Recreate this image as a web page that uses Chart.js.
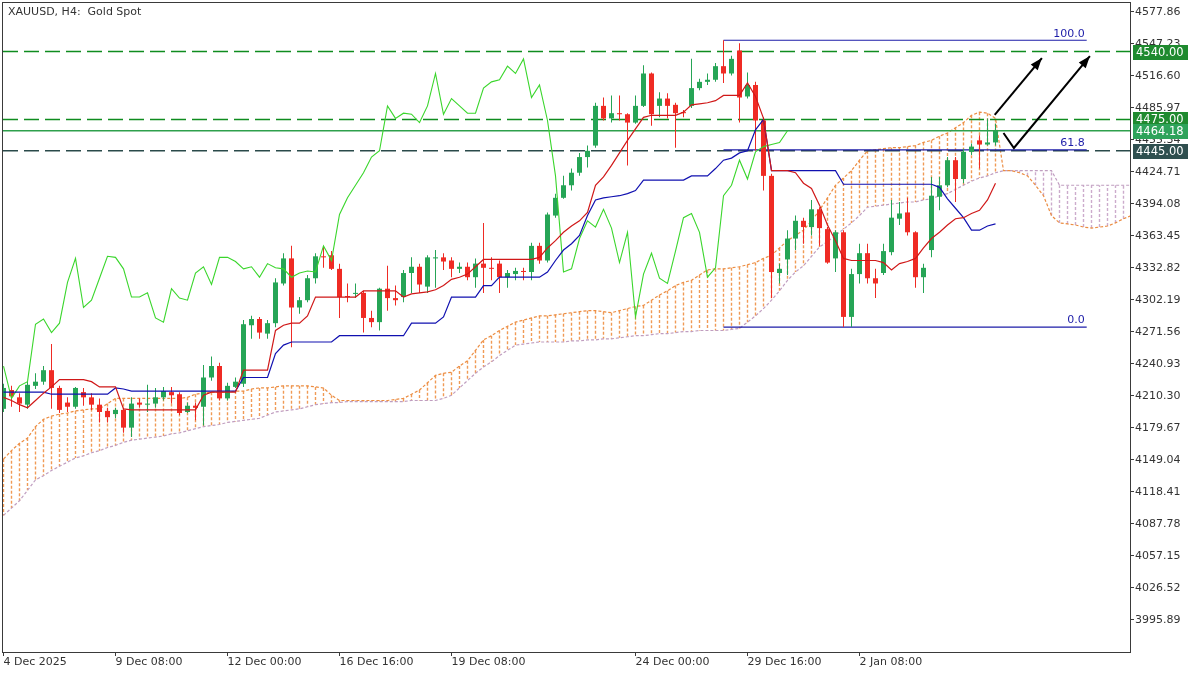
<!DOCTYPE html>
<html><head><meta charset="utf-8">
<script src="https://cdn.jsdelivr.net/npm/chart.js@4.4.1/dist/chart.umd.min.js"></script>
<style>html,body{margin:0;padding:0;background:#fff;}#wrap{width:1200px;height:675px;}</style>
</head><body><div id="wrap"><canvas id="c" width="1200" height="675"></canvas></div>
<script>
// ---------- DATA ----------
const opens = [4198,4216,4209,4202,4220,4224,4235,4218,4204,4200,
4214,4209,4202,4196,4193,4197,4180,4204,4202,4203,
4209,4214,4212,4195,4201,4200,4228,4239,4208,4219,
4222,4278,4284,4270,4280,4318,4342,4295,4302,4323,
4344,4345,4332,4306,4308,4309,4285,4281,4313,4304,
4305,4328,4334,4315,4342,4343,4340,4332,4334,4324,
4337,4333,4337,4324,4327,4330,4329,4354,4340,4383,
4400,4412,4424,4439,4450,4488,4476,4481,4480,4472,
4488,4519,4488,4495,4489,4482,4488,4505,4511,4513,
4526,4519,4541,4497,4508,4474,4421,4328,4341,4361,
4378,4372,4389,4370,4342,4367,4286,4327,4347,4323,
4328,4348,4380,4386,4367,4324,4350,4401,4412,4436,
4418,4444,4455,4451,4453];
const highs = [4222,4220,4213,4224,4232,4239,4260,4220,4209,4219,
4218,4213,4208,4199,4199,4199,4209,4208,4221,4218,
4219,4219,4214,4204,4204,4240,4248,4242,4223,4228,
4283,4287,4286,4283,4323,4347,4354,4305,4326,4347,
4353,4349,4337,4318,4318,4311,4292,4314,4335,4316,
4331,4343,4337,4345,4350,4347,4343,4338,4338,4342,
4376,4343,4340,4331,4333,4333,4357,4357,4386,4404,
4421,4428,4443,4450,4491,4496,4498,4498,4481,4498,
4527,4520,4501,4500,4491,4484,4533,4514,4519,4529,
4550.8,4536,4548,4520,4511,4477,4423,4337,4369,4383,
4381,4398,4391,4372,4369,4369,4332,4356,4356,4332,
4356,4398,4396,4400,4368,4337,4420,4420,4439,4439,
4447,4452,4460,4476,4471];
const lows = [4195,4200,4195,4198,4217,4221,4198,4194,4195,4198,
4201,4197,4185,4185,4189,4175,4171,4199,4195,4199,
4206,4203,4192,4194,4187,4182,4225,4206,4206,4218,
4219,4265,4265,4265,4276,4316,4257,4289,4300,4318,
4333,4331,4285,4300,4304,4271,4276,4273,4292,4297,
4300,4309,4309,4309,4314,4331,4324,4328,4321,4314,
4309,4321,4309,4314,4321,4321,4321,4337,4338,4381,
4399,4407,4421,4429,4448,4474,4472,4474,4431,4471,
4487,4469,4477,4476,4448,4477,4486,4503,4508,4511,
4510,4517,4472,4495,4445,4407,4304,4318,4326,4350,
4356,4364,4354,4337,4329,4276.3,4276.3,4318,4318,4304,
4326,4345,4374,4364,4314,4309,4343,4388,4410,4396,
4414,4441,4428,4450,4450];
const closes = [4218,4210,4203,4221,4224,4235,4218,4197,4200,4218,
4209,4202,4195,4190,4197,4180,4203,4202,4203,4209,
4215,4211,4194,4201,4199,4228,4239,4208,4220,4224,
4279,4284,4271,4280,4319,4342,4295,4302,4323,4344,
4343,4332,4305,4305,4309,4285,4281,4313,4304,4302,
4328,4334,4317,4343,4343,4339,4332,4334,4324,4337,
4333,4332,4324,4328,4330,4329,4354,4340,4384,4400,
4412,4424,4439,4445,4488,4476,4481,4480,4472,4488,
4519,4480,4495,4488,4481,4481,4505,4511,4513,4526,
4519,4533,4496,4508,4474,4421,4329,4332,4361,4378,
4372,4389,4371,4338,4367,4286,4327,4347,4323,4318,
4349,4381,4385,4367,4324,4333,4402,4412,4436,4418,
4444,4449,4451,4453,4464.18];
const tenkan = [4209,4206,4202,4199,4206,4213,4219,4226,4226,4226,
4226,4224,4219,4219,4219,4198,4197,4197,4197,4197,
4197,4197,4197,4197,4197,4211,4214,4214,4214,4214,
4235,4235,4235,4235,4273,4278,4280,4280,4287,4305,
4305,4305,4305,4305,4305,4311,4311,4311,4311,4311,
4305,4308,4309,4310,4312,4316,4322,4324,4327,4334,
4341,4341,4341,4341,4341,4341,4341,4343,4352,4359,
4367,4373,4378,4386,4412,4420,4431,4443,4455,4466,
4477,4479,4479,4479,4479,4482,4489,4490,4491,4493,
4498,4498,4498,4510,4497,4476,4426,4426,4426,4424,
4414,4409,4393,4374,4359,4342,4340,4340,4340,4340,
4338,4331,4337,4339,4342,4352,4361,4367,4374,4380,
4381,4385,4388,4398,4414];
const kijun = [4214,4214,4214,4214,4214,4214,4212,4212,4212,4212,
4212,4212,4212,4212,4218,4217,4215,4215,4215,4215,
4215,4215,4215,4215,4215,4215,4215,4215,4215,4215,
4228,4228,4228,4228,4251,4259,4262,4262,4262,4262,
4262,4262,4268,4268,4268,4268,4268,4268,4268,4268,
4268,4280,4280,4280,4280,4286,4305,4305,4305,4305,
4316,4316,4324,4324,4324,4324,4324,4324,4329,4340,
4350,4356,4364,4383,4398,4400,4401,4402,4404,4407,
4417,4417,4417,4417,4417,4417,4421,4421,4421,4428,
4436,4438,4443,4445,4465,4475,4426,4426,4426,4426,
4426,4426,4426,4426,4426,4413,4413,4413,4413,4413,
4413,4413,4413,4413,4413,4413,4413,4410,4399,4390,
4381,4369,4369,4373,4375];
const spanA = [4150,4158,4165,4170,4181,4188,4191,4193,4194,4196,
4197,4198,4198,4203,4208,4208,4208,4208,4208,4208,
4208,4208,4208,4209,4212,4213,4214,4214,4214,4215,
4215,4217,4218,4218,4219,4220,4220,4220,4220,4219,
4218,4211,4206,4206,4206,4206,4206,4206,4206,4207,
4208,4212,4216,4223,4230,4232,4233,4239,4244,4254,
4264,4268,4273,4277,4281,4283,4285,4287,4287,4288,
4289,4290,4291,4292,4292,4291,4290,4292,4294,4296,
4297,4302,4307,4311,4316,4319,4321,4326,4331,4332,
4332,4333,4334,4336,4338,4342,4345,4352,4359,4364,
4369,4378,4388,4400,4412,4419,4426,4436,4445,4446,
4447,4448,4448,4449,4450,4453,4455,4459,4462,4467,
4472,4479,4482,4481,4476,4426,4426,4424,4421,4412,
4402,4383,4376,4375,4374,4372,4371,4372,4373,4376,
4380,4383];
const spanB = [4096,4103,4110,4120,4130,4134,4139,4143,4147,4151,
4153,4156,4158,4161,4163,4166,4168,4169,4170,4171,
4172,4174,4175,4177,4179,4181,4182,4183,4185,4186,
4187,4188,4189,4192,4195,4196,4197,4198,4200,4202,
4203,4204,4204,4205,4205,4205,4205,4205,4205,4205,
4205,4206,4206,4206,4206,4208,4211,4218,4225,4232,
4238,4243,4249,4254,4259,4260,4261,4262,4262,4262,
4262,4263,4263,4264,4264,4265,4265,4266,4267,4268,
4268,4269,4270,4270,4271,4272,4272,4273,4273,4273,
4273,4274,4275,4281,4287,4294,4302,4311,4321,4329,
4335,4344,4353,4358,4364,4370,4376,4383,4391,4392,
4393,4394,4395,4396,4396,4398,4399,4402,4404,4408,
4412,4416,4419,4421,4424,4426,4426,4426,4426,4426,
4426,4426,4412,4412,4412,4412,4412,4412,4412,4412,
4412,4412];
const chikouShift = 26;
const yTickValues = [4577.86,4547.23,4516.60,4485.97,4455.34,4424.71,4394.08,4363.45,4332.82,4302.19,
4271.56,4240.93,4210.30,4179.67,4149.04,4118.41,4087.78,4057.15,4026.52,3995.89];
const xTickBars = [0,14,28,42,56,79,93,107];
const xTickLabels = ['4 Dec 2025','9 Dec 08:00','12 Dec 00:00','16 Dec 16:00','19 Dec 08:00','24 Dec 00:00','29 Dec 16:00','2 Jan 08:00'];
const levelPrices = [4540.00, 4475.00, 4464.18, 4445.00];
const fibLevels = [100.0, 61.8, 0.0];
const fibHigh = 4550.8, fibLow = 4276.3;
const fibStartBar = 90, fibEndBar = 135.4;
const arrowOne = [{x:123.9,y:4479.3},{x:129.8,y:4533.8}];
const arrowTwo = [{x:125.0,y:4462.0},{x:126.3,y:4447.7},{x:135.8,y:4535.7}];
const titleText = 'XAUUSD, H4:  Gold Spot';

// ---------- STYLE ----------
const BULL = '#26a556', BEAR = '#ef2b24';
const SANDY = '#f09a55', THISTLE = '#ccabcc';
const FONT = 'DejaVu Sans';
const levelStyles = [
  {line:'#0f8c1f', dash:[15,6], w:1.5, box:'#1f8a2f'},
  {line:'#0f8c1f', dash:[15,6], w:1.5, box:'#1f8a2f'},
  {line:'#2ea04c', dash:[], w:1.3, box:'#2ea35a'},
  {line:'#2a4a4a', dash:[15,6], w:1.4, box:'#2f4f4f'}
];

const X_MIN = -0.0625, X_MAX = 140.8125;
const Y_MAX = 4586.47, Y_MIN = 3965.25;

// ---------- DATASETS ----------
const candleColors = opens.map((o,i)=> closes[i] >= o ? BULL : BEAR);
function hatchData(up){
  const out = [];
  spanA.forEach((a,i)=>{
    if ((a >= spanB[i]) === up){ out.push({x:i,y:a},{x:i,y:spanB[i]},{x:i,y:null}); }
  });
  return out;
}
const datasets = [];
datasets.push({type:'line', label:'hatchUp', data: hatchData(true), borderColor:SANDY, borderWidth:1.4,
  borderDash:[3,2], pointRadius:0, spanGaps:false, tension:0, order:21});
datasets.push({type:'line', label:'hatchDown', data: hatchData(false), borderColor:THISTLE, borderWidth:1.4,
  borderDash:[3,2], pointRadius:0, spanGaps:false, tension:0, order:21});
datasets.push({type:'line', label:'spanA', data: spanA.map((v,i)=>({x:i,y:v})), borderColor:'#ec8d42',
  borderWidth:1.2, borderDash:[3,2], pointRadius:0, tension:0, order:19});
datasets.push({type:'line', label:'spanB', data: spanB.map((v,i)=>({x:i,y:v})), borderColor:'#c09ec0',
  borderWidth:1.2, borderDash:[3,2], pointRadius:0, tension:0, order:19});
levelPrices.forEach((p,k)=>{
  datasets.push({type:'line', label:'lvl'+k, data:[{x:X_MIN,y:p},{x:X_MAX,y:p}], borderColor:levelStyles[k].line,
    borderWidth:levelStyles[k].w, borderDash:levelStyles[k].dash, pointRadius:0, order:15});
});
fibLevels.forEach((l,k)=>{
  const p = fibLow + (fibHigh - fibLow) * l / 100;
  datasets.push({type:'line', label:'fib'+k, fibText: l.toFixed(1), data:[{x:fibStartBar,y:p},{x:fibEndBar,y:p}],
    borderColor:'#1c1ca8', borderWidth:1.2, pointRadius:0, order:14});
});
datasets.push({type:'bar', label:'wicks', data: opens.map((o,i)=>({x:i, y:[lows[i], highs[i]]})),
  backgroundColor: candleColors, barThickness:1, grouped:false, borderWidth:0, inflateAmount:0, order:10});
datasets.push({type:'bar', label:'bodies', data: opens.map((o,i)=>({x:i, y:[o, closes[i]]})),
  backgroundColor: candleColors, barThickness:5, grouped:false, borderWidth:0, inflateAmount:0, minBarLength:1, order:9});
datasets.push({type:'line', label:'chikou', data: closes.slice(chikouShift).map((c,i)=>({x:i,y:c})),
  borderColor:'#3ad62c', borderWidth:1.1, pointRadius:0, tension:0, order:5});
datasets.push({type:'line', label:'kijun', data: kijun.map((v,i)=>({x:i,y:v})),
  borderColor:'#1010b0', borderWidth:1.2, pointRadius:0, tension:0, order:4});
datasets.push({type:'line', label:'tenkan', data: tenkan.map((v,i)=>({x:i,y:v})),
  borderColor:'#d01818', borderWidth:1.2, pointRadius:0, tension:0, order:3});
datasets.push({type:'line', label:'arrow1', arrow:true, data: arrowOne, borderColor:'#000', borderWidth:2, pointRadius:0, tension:0, order:1});
datasets.push({type:'line', label:'arrow2', arrow:true, data: arrowTwo, borderColor:'#000', borderWidth:2, pointRadius:0, tension:0, order:1});

// ---------- PLUGIN ----------
const deco = {
  id:'deco',
  afterDatasetsDraw(chart){
    const ctx = chart.ctx;
    chart.data.datasets.forEach((ds,i)=>{
      const meta = chart.getDatasetMeta(i);
      if (ds.arrow){
        const pts = meta.data; const a = pts[pts.length-2], b = pts[pts.length-1];
        const ang = Math.atan2(b.y-a.y, b.x-a.x);
        ctx.save(); ctx.fillStyle = '#000'; ctx.beginPath();
        ctx.moveTo(b.x, b.y);
        ctx.lineTo(b.x - 12*Math.cos(ang) + 4.5*Math.sin(ang), b.y - 12*Math.sin(ang) - 4.5*Math.cos(ang));
        ctx.lineTo(b.x - 12*Math.cos(ang) - 4.5*Math.sin(ang), b.y - 12*Math.sin(ang) + 4.5*Math.cos(ang));
        ctx.closePath(); ctx.fill(); ctx.restore();
      }
      if (ds.fibText){
        const b = meta.data[meta.data.length-1];
        ctx.save(); ctx.fillStyle = '#1c1ca8'; ctx.font = '11px "'+FONT+'"';
        ctx.textAlign = 'right'; ctx.textBaseline = 'bottom';
        ctx.fillText(ds.fibText, b.x - 2, b.y - 1); ctx.restore();
      }
    });
  },
  afterDraw(chart){
    const ctx = chart.ctx, ca = chart.chartArea, ys = chart.scales.y;
    ctx.save();
    ctx.strokeStyle = '#3a3a3a'; ctx.lineWidth = 1;
    ctx.strokeRect(ca.left - 0.5, ca.top - 0.5, ca.right - ca.left + 1, ca.bottom - ca.top + 1);
    ctx.fillStyle = '#333'; ctx.font = '11px "'+FONT+'"'; ctx.textBaseline = 'middle'; ctx.textAlign = 'left';
    ctx.fillText(titleText, 8, 12);
    levelPrices.forEach((p,k)=>{
      const y = Math.round(ys.getPixelForValue(p));
      ctx.fillStyle = levelStyles[k].box;
      ctx.fillRect(ca.right + 3, y - 7, 55, 15);
      ctx.fillStyle = '#fff'; ctx.font = '11.5px "'+FONT+'"';
      ctx.fillText(p.toFixed(2), ca.right + 6, y + 1);
    });
    ctx.restore();
  }
};

Chart.defaults.font.family = FONT;
Chart.defaults.font.size = 11;
Chart.defaults.color = '#333';

new Chart(document.getElementById('c').getContext('2d'), {
  type:'bar',
  data:{ datasets },
  options:{
    responsive:false, devicePixelRatio:1, animation:false,
    layout:{ padding:{ left:3, top:3, right:0, bottom:0 } },
    plugins:{ legend:{display:false}, tooltip:{enabled:false} },
    events:[],
    scales:{
      x:{ type:'linear', position:'bottom', min:X_MIN, max:X_MAX, offset:false,
        grid:{ drawOnChartArea:false, drawTicks:true, tickLength:4, color:'#3a3a3a', offset:false },
        border:{ display:true, color:'#3a3a3a' },
        ticks:{ autoSkip:false, maxRotation:0, minRotation:0, align:'start', padding:0, color:'#333',
          callback:(v,i)=> xTickLabels[i] },
        afterBuildTicks:(s)=>{ s.ticks = xTickBars.map(v=>({value:v})); },
        afterFit:(s)=>{ s.height = 23; s.paddingLeft = 0; s.paddingRight = 0; } },
      y:{ type:'linear', position:'right', min:Y_MIN, max:Y_MAX,
        grid:{ drawOnChartArea:false, drawTicks:true, tickLength:4, color:'#3a3a3a' },
        border:{ display:true, color:'#3a3a3a' },
        ticks:{ padding:1, color:'#333', callback:(v)=> Number(v).toFixed(2) },
        afterBuildTicks:(s)=>{ s.ticks = yTickValues.map(v=>({value:v})); },
        afterFit:(s)=>{ s.width = 70; s.paddingTop = 0; s.paddingBottom = 0; } }
    }
  },
  plugins:[deco]
});
</script></body></html>
